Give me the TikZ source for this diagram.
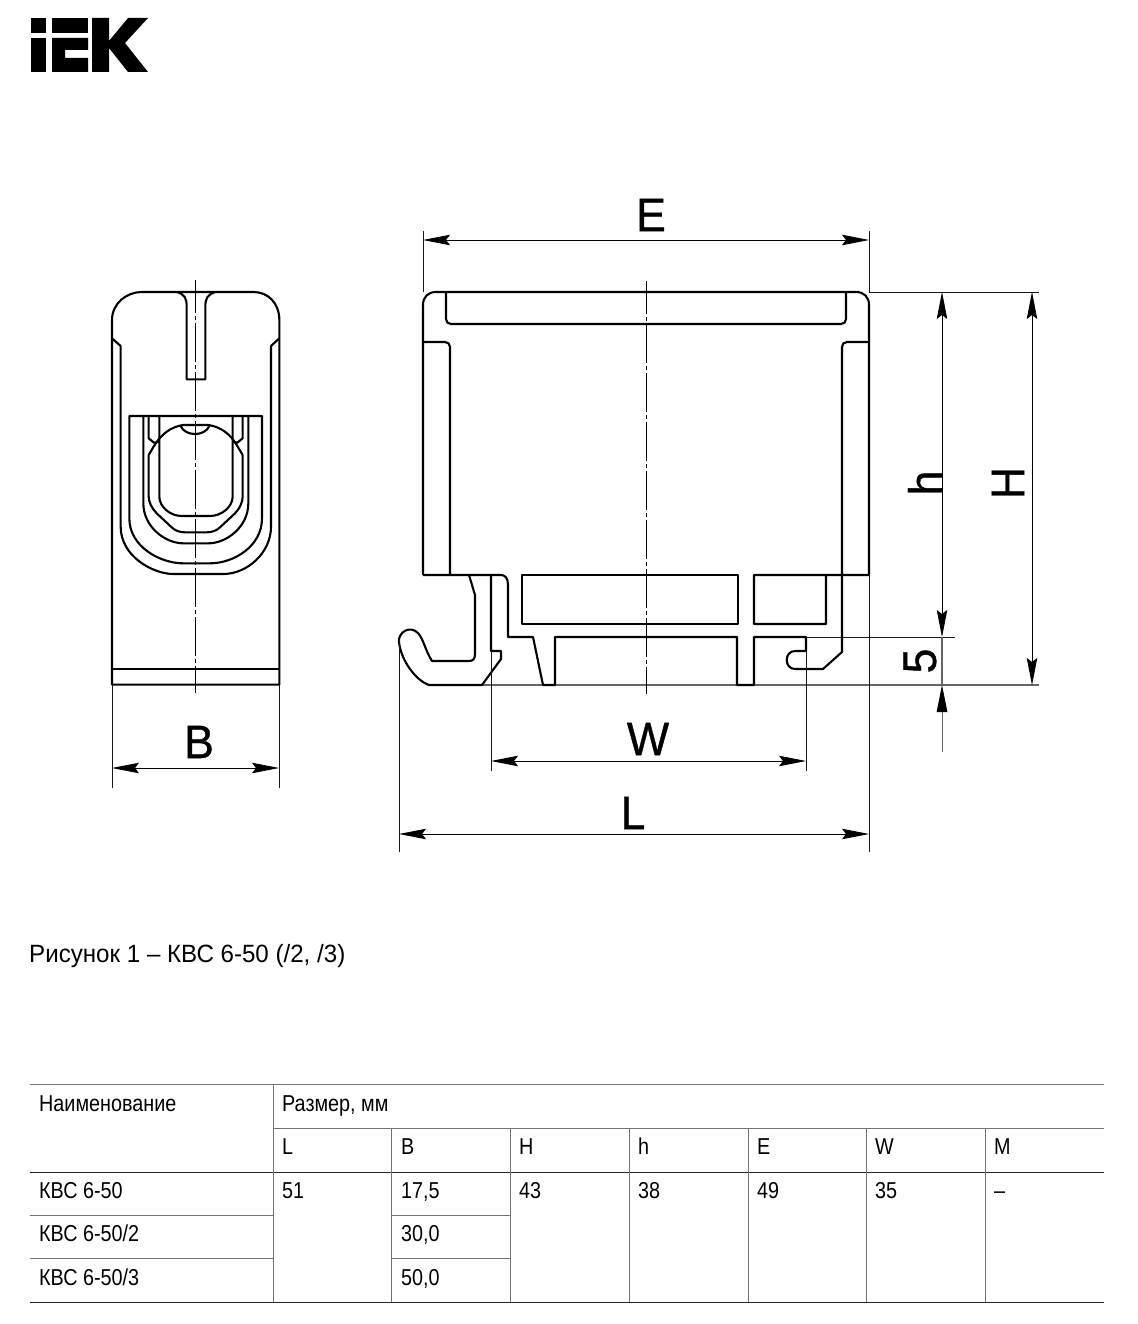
\documentclass[tikz,border=0pt]{standalone}
\usepackage{fontspec}
\newfontfamily\plainfont[FakeStretch=0.86]{Liberation Sans}
\newfontfamily\captionfont[FakeStretch=0.965]{Liberation Sans}
\newfontfamily\dimfont[FakeStretch=0.95,FakeBold=0.8]{Liberation Sans}
\usetikzlibrary{arrows.meta,calc,positioning}
\tikzset{
	contour/.style = {line width=2.1pt, black, line join=round},
	thinline/.style = {line width=0.8pt, black!90},
	baseline/.style = {line width=1.2pt, black!60},
	axisline/.style = {line width=0.8pt, black, dash pattern=on 39pt off 3pt on 4pt off 3pt, dash phase=6pt},
	dimline/.style = {line width=0.8pt, black, {Stealth[length=27pt,width=10.5pt,inset=4pt]}-{Stealth[length=27pt,width=10.5pt,inset=4pt]}},
	dimhead/.style = {line width=1pt, black!60, -{Stealth[length=27pt,width=10.5pt,inset=0pt,black]}},
	dimlabel/.style = {font=\dimfont\fontsize{47}{47}\selectfont, inner sep=0pt},
	celltext/.style = {font=\plainfont\fontsize{23}{23}\selectfont, anchor=base west, inner sep=0pt},
	ruledark/.style = {line width=1pt, black!85},
	rulegrey/.style = {line width=0.9pt, black!55}
}
\begin{document}
\begin{tikzpicture}[x=1pt,y=-1pt]
	\useasboundingbox (0,0) rectangle (1137,1324);

	\fill (31,18) rectangle (46,33);
	\fill (31,38) rectangle (46,72);
	\fill (52,18) rectangle (88,33);
	\fill (52,38) -- (88,38) -- (88,50) -- (65,50) -- (65,58) -- (88,58) -- (88,72) -- (52,72) -- cycle;
	\fill (92,18) -- (109,18) -- (109,41) -- (128,18) -- (148,18) -- (125,43) -- (148,72) -- (128,72) -- (109,48) -- (109,72) -- (92,72) -- cycle;

	\begin{scope}[shift={(90,270)},scale=1/3]
		\draw[contour] (66,1244) -- (66,150) .. controls (66,100) and (110,66) .. (155,66) -- (490,66) .. controls (535,66) and (568,100) .. (568,150) -- (568,1244) -- cycle;
		\draw[contour] (66,1198) -- (568,1198);
		\draw[contour] (66,205) -- (92,228) -- (92,770) .. controls (92,860) and (190,912) .. (250,912) -- (400,912) .. controls (470,912) and (543,850) .. (543,770) -- (543,228) -- (568,205);
		\draw[contour] (262,66) .. controls (285,75) and (290,85) .. (290,110) -- (290,328) -- (346,328) -- (346,110) .. controls (346,85) and (352,75) .. (375,66);
		\draw[contour] (118,745) -- (118,438) -- (516,438) -- (516,745) .. controls (516,830) and (430,880) .. (360,880) -- (280,880) .. controls (210,880) and (118,830) .. (118,745);
		\draw[contour] (160,438) -- (160,700) .. controls (160,770) and (225,820) .. (280,820) -- (355,820) .. controls (410,820) and (475,770) .. (475,700) -- (475,438);
		\draw[contour] (176,438) -- (176,505) -- (192,518) -- (208,515);
		\draw[contour] (458,438) -- (458,505) -- (442,518) -- (428,515);
		\draw[contour] (176,555) -- (176,680) .. controls (176,695) and (185,715) .. (200,730) -- (245,772) .. controls (255,782) and (270,787) .. (285,787) -- (350,787) .. controls (365,787) and (380,782) .. (390,772) -- (435,730) .. controls (450,715) and (458,695) .. (458,680) -- (458,555);
		\draw[contour] (208,438) -- (208,680) .. controls (208,710) and (240,738) .. (275,738) -- (360,738) .. controls (395,738) and (428,710) .. (428,680) -- (428,438);
		\draw[contour] (176,555) -- (192,528) .. controls (215,490) and (245,470) .. (280,465) -- (355,465) .. controls (390,470) and (420,490) .. (442,528) -- (458,555);
		\draw[contour] (272,468) .. controls (285,500) and (345,500) .. (358,468);
		\draw[axisline] (316,30) -- (316,1270);
	\end{scope}

	\coordinate (BL) at (112,768);
	\coordinate (BR) at (279,768);
	\draw[thinline] (112,685) -- (112,788);
	\draw[thinline] (279,685) -- (279,788);
	\draw[dimline] (BL) -- (BR);
	\node[dimlabel] (labelB) at (199,742) {B};

	\draw[baseline] (482,685) -- (1039,685);
	\draw[contour] (423,575) -- (423,305) .. controls (423,297) and (428,292) .. (436,292) -- (856,292) .. controls (864,292) and (869,297) .. (869,305) -- (869,575) -- (754,575) -- (754,624) -- (826,624) -- (826,575);
	\draw[contour] (446,292) -- (446,319) .. controls (446,322) and (448,324) .. (451,324) -- (841,324) .. controls (844,324) and (846,322) .. (846,319) -- (846,292);
	\draw[contour] (423,342) -- (445,342) .. controls (448,342) and (450,344) .. (450,347) -- (450,575);
	\draw[contour] (869,342) -- (847,342) .. controls (844,342) and (842,344) .. (842,347) -- (842,652) -- (823,669) -- (795,669) .. controls (784,669) and (784,651) .. (795,651) -- (806,651) -- (806,637) -- (754,637) -- (754,685) -- (737,685) -- (737,637) -- (555,637) -- (555,685) -- (543,685) -- (533,637) -- (508,637) -- (508,585) .. controls (508,578) and (505,575) .. (501,575) -- (423,575);
	\draw[contour] (522,575) rectangle (738,624);
	\draw[contour] (469,575) -- (475,595) -- (475,654) .. controls (475,659) and (473,661) .. (469,661) -- (432,661) .. controls (425,650) and (424,640) .. (418,633) .. controls (410,625) and (398,632) .. (399,642) .. controls (401,660) and (415,680) .. (429,685) -- (482,685) -- (501,659) -- (501,651) -- (491,651) -- (491,575);

	\draw[axisline] (646,281) -- (646,694);

	\coordinate (EL) at (423,240);
	\coordinate (ER) at (869,240);
	\draw[thinline] (423,231) -- (423,292);
	\draw[thinline] (869,231) -- (869,292);
	\draw[dimline] (EL) -- (ER);
	\node[dimlabel] (labelE) at (651,215) {E};

	\coordinate (WL) at (491,761);
	\coordinate (WR) at (806,761);
	\draw[thinline] (491,651) -- (491,771);
	\draw[thinline] (806,651) -- (806,771);
	\draw[dimline] (WL) -- (WR);
	\node[dimlabel] (labelW) at (648,739) {W};

	\coordinate (LL) at (399,834);
	\coordinate (LR) at (869,834);
	\draw[thinline] (399,640) -- (399,852);
	\draw[thinline] (869,575) -- (869,852);
	\draw[dimline] (LL) -- (LR);
	\node[dimlabel] (labelL) at (633,813) {L};

	\coordinate (hT) at (942,292);
	\coordinate (hB) at (942,637);
	\coordinate (fiveT) at (942,752);
	\coordinate (fiveB) at (942,685);
	\coordinate (HT) at (1032,292);
	\coordinate (HB) at (1032,685);
	\draw[thinline] (869,292) -- (1039,292);
	\draw[thinline] (806,637) -- (955,637);
	\draw[dimline] (hT) -- (hB);
	\draw[baseline] (hB) -- (fiveB);
	\draw[dimhead] (fiveT) -- (fiveB);
	\draw[dimline] (HT) -- (HB);
	\node[dimlabel, rotate=90] (labelh) at (925,483) {h};
	\node[dimlabel, rotate=90] (labelH) at (1008,483) {H};
	\node[dimlabel, rotate=90] (labelfive) at (920,661) {5};

	\node[celltext, font=\captionfont\fontsize{25}{25}\selectfont] (caption) at (29,962) {Рисунок 1 – КВС 6-50 (/2, /3)};

	\draw[rulegrey] (30,1084) -- (1104,1084);
	\draw[rulegrey] (273,1128) -- (1104,1128);
	\draw[ruledark] (30,1172) -- (1104,1172);
	\draw[rulegrey] (30,1215) -- (273,1215);
	\draw[rulegrey] (391,1215) -- (510,1215);
	\draw[rulegrey] (30,1258) -- (273,1258);
	\draw[rulegrey] (391,1258) -- (510,1258);
	\draw[ruledark] (30,1302) -- (1104,1302);
	\draw[rulegrey] (273,1084) -- (273,1302);
	\foreach \colx in {391,510,629,748,866,985}
		\draw[rulegrey] (\colx,1128) -- (\colx,1302);

	\node[celltext] (nameHead) at (39,1111) {Наименование};
	\node[celltext] (sizeHead) at (282,1111) {Размер, мм};
	\foreach \name/\colx/\txt in {L/282/L,B/401/B,H/519/H,h/638/h,E/757/E,W/875/W,M/994/M}
		\node[celltext] (head\name) at (\colx,1154) {\txt};
	\node[celltext] (rowA) at (39,1198) {КВС 6-50};
	\node[celltext] (rowB) at (39,1241) {КВС 6-50/2};
	\node[celltext] (rowC) at (39,1285) {КВС 6-50/3};
	\foreach \name/\colx/\txt in {L/282/51,B/401/{17,5},H/519/43,h/638/38,E/757/49,W/875/35,M/994/–}
		\node[celltext] (val\name) at (\colx,1198) {\txt};
	\node[celltext] (valBb) at (401,1241) {30,0};
	\node[celltext] (valBc) at (401,1285) {50,0};
\end{tikzpicture}
\end{document}
